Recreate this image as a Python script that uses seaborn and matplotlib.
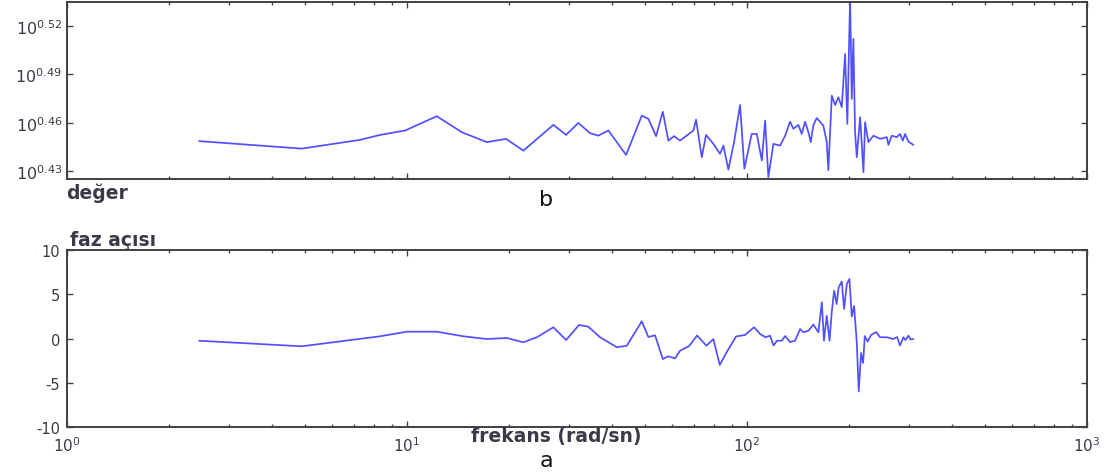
import numpy as np
import pandas as pd
import matplotlib
matplotlib.use('Agg')
import matplotlib.pyplot as plt
import seaborn as sns
from matplotlib.ticker import FixedLocator, NullLocator, LogLocator

# frekans (rad/sn) and genlik (değer)
freq_mag = [2.445, 4.90, 7.27, 8.33, 9.87, 12.23, 14.49, 17.16, 19.55, 21.98,
            26.94, 29.36, 31.90, 34.53, 36.52, 39.09, 44.08, 49.01, 51.25, 54.00,
            56.51, 58.68, 60.99, 63.52, 69.53, 70.79, 73.58, 75.75, 79.59, 83.28,
            85.16, 88.10, 91.57, 95.37, 98.19, 103.2, 106.8, 110.5, 113.0, 115.5,
            119.5, 125.1, 129.4, 133.8, 136.8, 141.5, 144.8, 148.1, 151.5, 153.9,
            156.7, 160.3, 163.9, 167.6, 171.5, 173.4, 177.5, 181.5, 185.6, 189.9,
            194.2, 197.2, 200.9, 203.2, 205.4, 207.8, 210.2, 215.0, 219.9, 222.4,
            227.4, 235.3, 246.2, 257.6, 260.4, 266.5, 275.6, 281.8, 287.1, 291.6,
            298.2, 308.4]
magnitude = [2.809, 2.779, 2.814, 2.834, 2.852, 2.911, 2.845, 2.805, 2.818, 2.771,
             2.875, 2.834, 2.883, 2.841, 2.831, 2.852, 2.754, 2.913, 2.900, 2.829,
             2.930, 2.811, 2.829, 2.811, 2.852, 2.897, 2.745, 2.834, 2.798, 2.758,
             2.791, 2.697, 2.805, 2.958, 2.700, 2.838, 2.838, 2.732, 2.893, 2.668,
             2.798, 2.791, 2.831, 2.888, 2.859, 2.875, 2.838, 2.888, 2.845, 2.805,
             2.875, 2.903, 2.888, 2.872, 2.807, 2.694, 2.998, 2.958, 2.991, 2.949,
             3.182, 2.879, 3.450, 2.984, 3.251, 2.845, 2.745, 2.907, 2.687, 2.886,
             2.805, 2.831, 2.818, 2.825, 2.794, 2.831, 2.825, 2.838, 2.811, 2.838,
             2.807, 2.794]

# frekans (rad/sn) and faz açısı
freq_phase = [2.445, 4.90, 8.33, 9.98, 12.23, 14.64, 17.16, 19.64, 21.98, 24.07,
              26.94, 29.36, 32.05, 34.14, 36.95, 41.40, 44.29, 49.01, 51.25, 53.63,
              56.51, 58.68, 61.41, 63.52, 67.52, 71.28, 75.91, 79.59, 83.11, 87.15,
              92.81, 98.65, 104.9, 109.2, 113.4, 116.8, 119.6, 122.5, 126.5, 129.4,
              133.8, 138.4, 143.2, 146.4, 151.5, 156.7, 162.1, 165.9, 168.3, 171.5,
              174.8, 177.2, 180.3, 183.4, 185.9, 189.9, 192.9, 196.5, 200.0, 203.2,
              206.4, 210.2, 213.0, 216.4, 219.4, 221.9, 226.2, 231.6, 239.6, 246.2,
              257.6, 269.4, 276.2, 281.8, 288.2, 292.5, 298.2, 302.6, 308.4]
phase = [-0.25, -0.88, 0.25, 0.77, 0.77, 0.25, -0.06, 0.06, -0.43, 0.14,
         1.27, -0.17, 1.53, 1.33, 0.14, -0.99, -0.81, 1.94, 0.17, 0.36,
         -2.32, -2.01, -2.24, -1.38, -0.85, 0.34, -0.81, -0.06, -2.99, -1.53,
         0.23, 0.40, 1.27, 0.51, 0.14, 0.32, -0.79, -0.25, -0.25, 0.28,
         -0.40, -0.25, 1.07, 0.70, 0.88, 1.58, 0.70, 4.09, -0.25, 2.58,
         -0.25, 2.77, 5.40, 3.90, 5.79, 6.44, 3.33, 6.16, 6.72, 2.49,
         3.67, -0.43, -5.99, -1.64, -2.77, 0.28, -0.34, 0.40, 0.73, 0.14,
         0.14, -0.06, 0.17, -0.79, 0.14, -0.17, 0.32, -0.11, -0.06]

mag_exponents = [0.43, 0.46, 0.49, 0.52]
mag_tick_labels = ['$10^{0.43}$', '$10^{0.46}$', '$10^{0.49}$', '$10^{0.52}$']
phase_ticks = [-10, -5, 0, 5, 10]

sns.set_style('ticks')
plt.rcParams['font.family'] = ['DejaVu Sans']
plt.rcParams['mathtext.fontset'] = 'dejavusans'
plt.rcParams['axes.unicode_minus'] = False

line_color = '#5050ff'
text_color = '#3a3a48'

fig = plt.figure(figsize=(11.12, 4.77), dpi=100)
ax1 = fig.add_axes([0.0603, 0.6226, 0.9173, 0.3711])
ax2 = fig.add_axes([0.0603, 0.1027, 0.9173, 0.3711])

sns.lineplot(x=freq_mag, y=magnitude, ax=ax1, color=line_color, lw=1.25,
             estimator=None, sort=False)
sns.lineplot(x=freq_phase, y=phase, ax=ax2, color=line_color, lw=1.25,
             estimator=None, sort=False)

for ax in (ax1, ax2):
    ax.set_xscale('log')
    ax.set_xlim(1, 1000)
    ax.xaxis.set_major_locator(LogLocator(base=10))
    ax.xaxis.set_minor_locator(LogLocator(base=10, subs=np.arange(2, 10)))
    ax.tick_params(which='both', direction='in', top=True, right=True,
                   colors='#444444', labelcolor=text_color, labelsize=11.5)
    ax.tick_params(which='major', length=4, width=1)
    ax.tick_params(which='minor', length=2.5, width=1)
    for s in ax.spines.values():
        s.set_linewidth(1.4)
        s.set_color('#404040')
    ax.set_xlabel('')
    ax.set_ylabel('')

ax1.set_yscale('log')
ax1.set_ylim(10 ** 0.425, 10 ** 0.535)
ax1.yaxis.set_major_locator(FixedLocator([10 ** e for e in mag_exponents]))
ax1.yaxis.set_minor_locator(NullLocator())
ax1.set_yticklabels(mag_tick_labels)
ax1.tick_params(labelbottom=False)

ax2.set_ylim(-10, 10)
ax2.set_yticks(phase_ticks)
ax2.yaxis.set_minor_locator(NullLocator())
ax2.tick_params(axis='y', labelsize=10.5, pad=5)
ax2.tick_params(axis='x', labelsize=11, pad=6)

fig.text(66 / 1112, 1 - 193 / 477, 'değer', ha='left', va='center',
         fontsize=13.5, weight='bold', color=text_color)
fig.text(546 / 1112, 1 - 200 / 477, 'b', ha='center', va='center',
         fontsize=16, color='#111111')
fig.text(70 / 1112, 1 - 241 / 477, 'faz açısı', ha='left', va='center',
         fontsize=13.5, weight='bold', color=text_color)
fig.text(556 / 1112, 1 - 437 / 477, 'frekans (rad/sn)', ha='center', va='center',
         fontsize=13.5, weight='bold', color=text_color)
fig.text(546 / 1112, 1 - 461 / 477, 'a', ha='center', va='center',
         fontsize=16, color='#111111')

fig.savefig('out.png', dpi=100)
